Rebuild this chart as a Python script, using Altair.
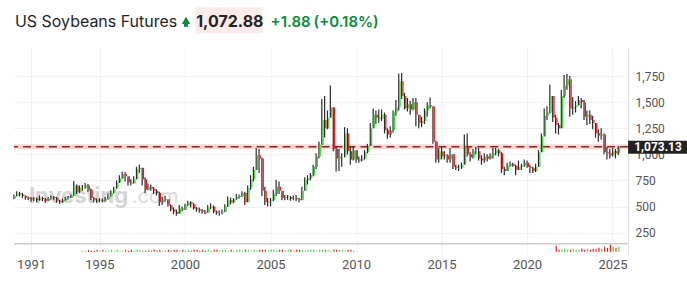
import altair as alt
import pandas as pd

# bimonthly bars, Jan 1990 .. May 2025 (one line per year)
close = [
    600, 625, 615, 600, 585, 575,
    570, 575, 560, 580, 570, 555,
    575, 590, 580, 555, 540, 560,
    575, 585, 600, 700, 640, 680,
    680, 700, 660, 580, 560, 555,
    560, 555, 570, 600, 630, 670,
    730, 770, 810, 790, 730, 720,
    760, 860, 870, 760, 660, 690,
    670, 650, 630, 540, 560, 570,
    510, 470, 450, 430, 480, 470,
    510, 540, 520, 480, 470, 460,
    450, 440, 490, 500, 450, 440,
    440, 450, 500, 560, 540, 570,
    590, 600, 630, 540, 680, 760,
    850, 990, 960, 650, 540, 550,
    560, 620, 690, 650, 580, 590,
    590, 575, 580, 570, 560, 650,
    750, 770, 800, 880, 980, 1090,
    1330, 1250, 1350, 1450, 1050, 960,
    980, 980, 1200, 1030, 950, 1040,
    950, 940, 960, 1020, 1080, 1250,
    1380, 1350, 1340, 1380, 1230, 1190,
    1230, 1400, 1450, 1700, 1560, 1440,
    1480, 1430, 1500, 1380, 1300, 1320,
    1420, 1470, 1460, 1120, 950, 1030,
    980, 990, 950, 1000, 880, 870,
    870, 900, 1080, 1000, 970, 1030,
    1030, 960, 940, 980, 960, 990,
    1010, 1040, 1010, 860, 840, 890,
    910, 890, 850, 880, 890, 920,
    880, 870, 840, 880, 1020, 1170,
    1370, 1400, 1560, 1350, 1280, 1250,
    1560, 1660, 1720, 1440, 1450, 1470,
    1520, 1500, 1360, 1380, 1330, 1300,
    1200, 1180, 1190, 1020, 1010, 990,
    1030, 1010, 1073,
]
high = [
    615, 645, 640, 630, 605, 595,
    590, 590, 585, 605, 595, 580,
    590, 605, 600, 590, 565, 575,
    590, 600, 615, 745, 710, 700,
    705, 725, 715, 670, 590, 575,
    580, 575, 590, 625, 655, 690,
    750, 800, 835, 830, 790, 760,
    790, 880, 900, 870, 780, 720,
    710, 685, 665, 640, 590, 600,
    560, 520, 490, 470, 515, 500,
    525, 555, 550, 530, 495, 490,
    475, 465, 515, 530, 510, 460,
    460, 470, 520, 595, 585, 580,
    620, 615, 645, 640, 700, 800,
    880, 1060, 1050, 970, 690, 580,
    580, 660, 755, 740, 650, 610,
    610, 600, 605, 610, 580, 690,
    780, 800, 820, 900, 1010, 1120,
    1530, 1560, 1420, 1660, 1400, 1070,
    1050, 1010, 1260, 1250, 1080, 1080,
    1000, 980, 990, 1040, 1100, 1300,
    1440, 1420, 1430, 1430, 1400, 1250,
    1270, 1420, 1520, 1775, 1780, 1590,
    1540, 1510, 1540, 1540, 1370, 1360,
    1440, 1500, 1545, 1460, 1130, 1060,
    1070, 1030, 1000, 1060, 1000, 900,
    900, 920, 1190, 1200, 1020, 1050,
    1070, 1060, 990, 1010, 1000, 1010,
    1060, 1060, 1050, 1020, 880, 920,
    930, 920, 900, 940, 910, 950,
    940, 900, 880, 910, 1040, 1200,
    1440, 1460, 1670, 1560, 1380, 1300,
    1620, 1760, 1770, 1750, 1550, 1510,
    1560, 1540, 1520, 1420, 1420, 1370,
    1260, 1240, 1250, 1200, 1070, 1050,
    1060, 1050, 1080,
]
low = [
    570, 595, 595, 580, 565, 560,
    545, 550, 540, 555, 550, 535,
    550, 565, 560, 535, 525, 535,
    555, 565, 580, 600, 620, 630,
    650, 670, 640, 560, 540, 535,
    540, 540, 545, 565, 595, 625,
    690, 725, 765, 740, 700, 700,
    720, 760, 820, 700, 630, 655,
    650, 620, 605, 505, 515, 545,
    500, 455, 425, 410, 430, 455,
    465, 505, 490, 470, 450, 440,
    430, 425, 440, 475, 435, 420,
    410, 425, 445, 495, 520, 530,
    565, 575, 590, 515, 540, 660,
    740, 850, 820, 600, 515, 500,
    500, 550, 600, 620, 560, 560,
    565, 555, 560, 550, 540, 560,
    690, 710, 750, 790, 860, 960,
    1100, 1160, 1240, 1400, 1030, 834,
    840, 880, 970, 1000, 900, 940,
    920, 920, 930, 950, 1010, 1080,
    1260, 1290, 1300, 1320, 1200, 1150,
    1160, 1210, 1370, 1420, 1530, 1430,
    1410, 1380, 1420, 1270, 1250, 1260,
    1290, 1360, 1440, 1100, 920, 920,
    950, 950, 920, 920, 860, 850,
    840, 860, 900, 980, 930, 960,
    1000, 940, 900, 920, 930, 950,
    960, 990, 980, 820, 800, 840,
    880, 880, 800, 850, 850, 880,
    870, 820, 820, 830, 880, 1020,
    1300, 1330, 1390, 1310, 1200, 1190,
    1250, 1540, 1620, 1360, 1380, 1400,
    1470, 1440, 1330, 1280, 1290, 1240,
    1160, 1120, 1140, 1000, 950, 960,
    980, 960, 990,
]
volume = (
    [0] * 24
    + [1, 1, 2, 1, 1, 2, 1, 2, 1, 1, 2, 1, 2, 1, 1, 2, 1, 2, 1, 2, 2, 1, 1, 2,
       1, 2, 1, 2, 1, 1, 2, 1, 2, 2, 1, 2, 1, 2, 1, 2, 2, 1, 2, 1, 2, 1, 2, 2,
       1, 2, 2, 1, 2, 1, 2, 2, 1, 2, 2, 1, 2, 1, 2, 2, 2, 1, 2, 2, 1, 2, 2, 1,
       2, 2, 1, 2, 2, 2, 1, 2, 2, 2, 1, 2, 2, 2, 2, 1, 2, 2, 2, 2, 1, 2, 2, 1]
    + [0] * 70
    + [6, 2, 2, 3, 2, 2, 3, 2, 2, 3, 2, 3, 2, 3, 3, 4, 3, 5, 4, 7, 5, 4, 5]
)
first_open = 575
last_price = 1073.13
year_ticks = [1991, 1995, 2000, 2005, 2010, 2015, 2020, 2025]
y_ticks = [250, 500, 750, 1000, 1250, 1500, 1750]

dates = pd.date_range("1990-01-01", periods=len(close), freq="2MS") + pd.Timedelta(days=14)
opens = [first_open] + close[:-1]
df = pd.DataFrame({
    "date": dates,
    "open": opens,
    "close": close,
    "high": [max(h, o, c) for h, o, c in zip(high, opens, close)],
    "low": [min(l, o, c) for l, o, c in zip(low, opens, close)],
    "volume": volume,
})
df["dir"] = ["up" if c >= o else "down" for o, c in zip(opens, close)]

W = 615
x_scale = alt.Scale(domain=[alt.DateTime(year=1990, month=1, date=3),
                            alt.DateTime(year=2025, month=11, date=28)])
tick_vals = [alt.DateTime(year=y, month=1, date=1) for y in year_ticks]
y_scale = alt.Scale(domain=[151, 2018], nice=False, zero=False)
GRID = "#f0f0f0"
AXFONT = "Roboto"

x_grid_axis = alt.Axis(values=tick_vals, labels=False, ticks=False, domain=False,
                       grid=True, gridColor=GRID, title=None)
y_axis = alt.Axis(orient="right", values=y_ticks, format=",.0f", grid=True, gridColor=GRID,
                  ticks=False, tickSize=0, labelPadding=7, labelFontSize=12,
                  labelOverlap=False, labelColor="#555555", labelFont=AXFONT,
                  domainColor="#dddddd", title=None)

one = alt.Data(values=[{"a": 1}])

# ---------- header ----------
hdr_base = alt.Chart(one)
h_title = hdr_base.mark_text(align="left", baseline="alphabetic", fontSize=16, font="Inter",
                             color="#232526").encode(
    x=alt.value(1), y=alt.value(27), text=alt.value("US Soybeans Futures"))
h_arrow = hdr_base.mark_point(shape="triangle-up", filled=True, size=70, color="#0b8a3b",
                              opacity=1).encode(x=alt.value(172.3), y=alt.value(20.3))
h_stem = hdr_base.mark_rect(color="#0b8a3b").encode(
    x=alt.value(170.3), x2=alt.value(174.3), y=alt.value(21.5), y2=alt.value(26.7))
h_bg = hdr_base.mark_rect(color="#fcebe9").encode(
    x=alt.value(181.5), x2=alt.value(249), y=alt.value(7), y2=alt.value(33))
h_price = hdr_base.mark_text(align="left", baseline="alphabetic", fontSize=16, font="Inter",
                             fontWeight="bold", color="#232526").encode(
    x=alt.value(182.5), y=alt.value(27), text=alt.value("1,072.88"))
h_chg = hdr_base.mark_text(align="left", baseline="alphabetic", fontSize=15, font="Inter",
                           fontWeight=600, color="#0b8a3b").encode(
    x=alt.value(257), y=alt.value(27), text=alt.value("+1.88"))
h_pct = hdr_base.mark_text(align="left", baseline="alphabetic", fontSize=15, font="Inter",
                           fontWeight=600, color="#0b8a3b").encode(
    x=alt.value(300), y=alt.value(27), text=alt.value("(+0.18%)"))
header = alt.layer(h_bg, h_title, h_arrow, h_stem, h_price, h_chg, h_pct).properties(
    width=W, height=48)

# ---------- price panel ----------
wm1 = alt.Chart(one).mark_text(align="left", baseline="alphabetic", fontSize=22, font="Inter",
                               fontWeight="bold", color="#d4d4d4").encode(
    x=alt.value(15), y=alt.value(155), text=alt.value("Investing"))
wm2 = alt.Chart(one).mark_text(align="left", baseline="alphabetic", fontSize=20, font="Inter",
                               color="#dadada").encode(
    x=alt.value(118), y=alt.value(155), text=alt.value(".com"))

base = alt.Chart(df).encode(x=alt.X("date:T", scale=x_scale, axis=x_grid_axis))
wick = base.mark_rule(color="#2b2b2b", strokeWidth=1.2, xOffset=-0.6).encode(
    y=alt.Y("low:Q", scale=y_scale, axis=y_axis), y2="high:Q")
body = base.mark_rule(strokeWidth=1.3, xOffset=0.7).encode(
    y=alt.Y("open:Q", scale=y_scale, axis=y_axis), y2="close:Q",
    color=alt.Color("dir:N", scale=alt.Scale(domain=["up", "down"], range=["#33dd33", "#f01818"]),
                    legend=None))

pl = alt.Chart(one)
glow = pl.mark_rule(color="#fdd6d6", strokeWidth=5).encode(
    y=alt.Y(datum=last_price, scale=y_scale, axis=y_axis))
dash = pl.mark_rule(color="#8a2525", strokeWidth=1.5, strokeDash=[8, 5]).encode(
    y=alt.Y(datum=last_price, axis=y_axis))
box = pl.mark_rect(color="#222222", yOffset=-6, y2Offset=7).encode(
    x=alt.value(615), x2=alt.value(674), y=alt.Y(datum=last_price, axis=y_axis),
    y2=alt.Y2(datum=last_price))
box_txt = pl.mark_text(color="white", fontSize=12, fontWeight="bold", font=AXFONT,
                       align="center", baseline="middle", yOffset=0.5).encode(
    x=alt.value(645), y=alt.Y(datum=last_price, axis=y_axis), text=alt.value("1,073.13"))

price = alt.layer(wm1, wm2, glow, dash, wick, body, box, box_txt).properties(width=W, height=195)

# ---------- volume panel ----------
vol_axis_x = alt.Axis(values=tick_vals, format="%Y", labelFontSize=13, labelColor="#555555",
                      labelFont=AXFONT, labelPadding=5, labelOverlap=False, ticks=False, tickSize=0,
                      domain=False, grid=True, gridColor=GRID, title=None)
vol_bars = alt.Chart(df).transform_filter("datum.volume > 0").mark_rule(strokeWidth=1.2).encode(
    x=alt.X("date:T", scale=x_scale, axis=vol_axis_x),
    y=alt.Y("volume:Q", scale=alt.Scale(domain=[-2, 8], nice=False, zero=False),
            axis=alt.Axis(orient="right", labels=False, ticks=False, tickSize=0, grid=False,
                          domainColor="#dddddd", title=None)),
    y2=alt.Y2(datum=0),
    color=alt.Color("dir:N", scale=alt.Scale(domain=["up", "down"], range=["#9fdc9f", "#ef8f8f"]),
                    legend=None))
sep = alt.Chart(one).mark_rule(color="#cccccc", strokeWidth=1.5).encode(y=alt.value(0))
volume_chart = alt.layer(vol_bars, sep).properties(width=W, height=10)

chart = alt.vconcat(header, price, volume_chart, spacing=0).properties(
    padding={"left": 11, "top": 0, "right": 0, "bottom": 0}
).configure_view(stroke=None).configure_axis(labelOverlap=False)

chart.save("out.html", embed_options={"renderer": "svg", "actions": False})
